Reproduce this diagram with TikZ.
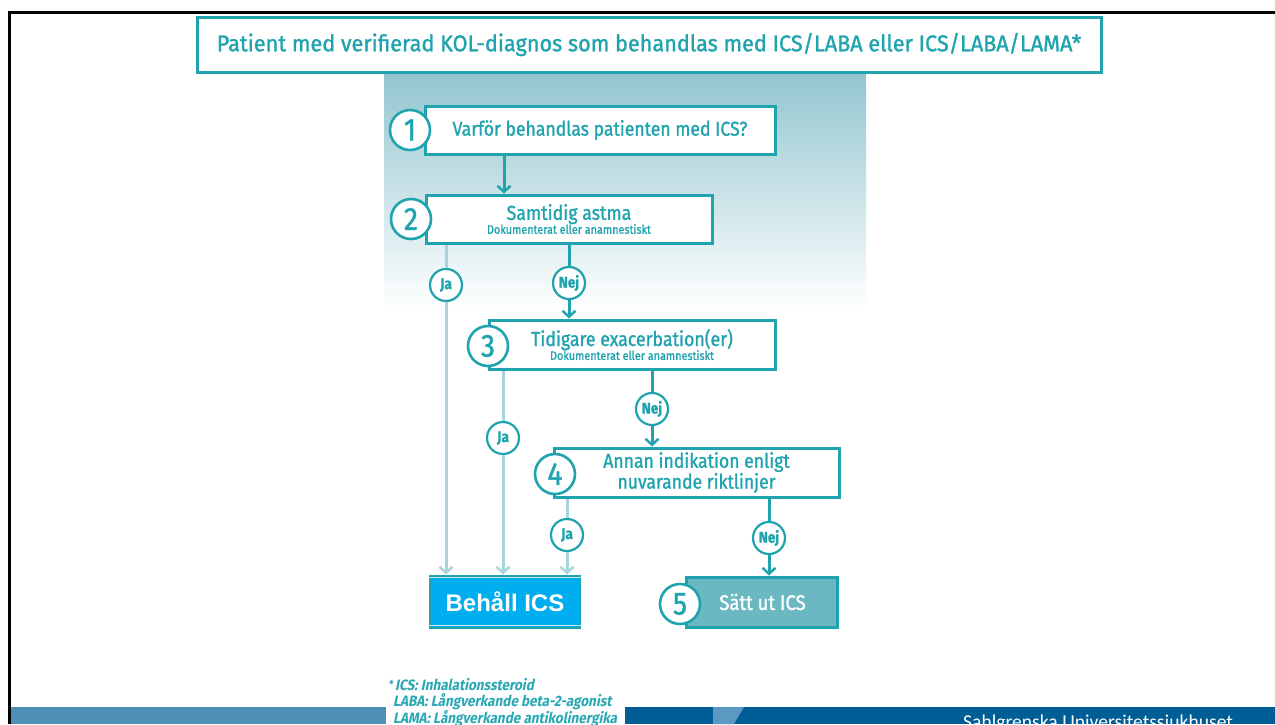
\documentclass[tikz,border=0pt]{standalone}
\usepackage{fontspec}
\usetikzlibrary{arrows.meta,calc}
\newfontfamily\cond[FakeStretch=0.88,FakeBold=1.2]{Fira Sans}
\newfontfamily\condt[FakeStretch=0.95,FakeBold=1.2]{Fira Sans}
\newfontfamily\condit[FakeStretch=0.9,FakeSlant=0.2]{Fira Sans}
\newfontfamily\arialf{Liberation Sans}
\newfontfamily\carl{Carlito}
\definecolor{teal1}{HTML}{1FA3AF}
\definecolor{lightln}{HTML}{A9D3DA}
\definecolor{gradtop}{HTML}{93C5CF}
\definecolor{cyanfill}{HTML}{00AEEF}
\definecolor{sattfill}{HTML}{6BB8C3}
\definecolor{footlight}{HTML}{4E90B7}
\definecolor{footdark}{HTML}{005E97}
\definecolor{footstripe}{HTML}{5B98C2}
\definecolor{notecol}{HTML}{2AA8B4}
\tikzset{
  box/.style={draw=teal1,line width=3pt,fill=white,text=teal1,align=center,inner sep=0pt},
  numc/.style={circle,draw=teal1,line width=2.6pt,fill=white,text=teal1,minimum size=40pt,inner sep=0pt,font=\cond\fontsize{32}{32}\selectfont},
  jn/.style={circle,draw=teal1,line width=2.2pt,fill=white,text=teal1,minimum size=32pt,inner sep=0pt,font=\cond\bfseries\fontsize{15.5}{15.5}\selectfont},
  arr/.style={draw=teal1,line width=3pt,-{Straight Barb[length=6pt,width=13pt,line width=2.5pt]}},
  larr/.style={draw=lightln,line width=3pt,-{Straight Barb[length=6pt,width=13pt,line width=2.5pt]}},
  ln/.style={draw=teal1,line width=3pt},
  lln/.style={draw=lightln,line width=3pt},
  bigt/.style={font=\cond\fontsize{20}{19}\selectfont},
}
\newcommand{\subt}[1]{{\cond\fontsize{12.3}{12.3}\selectfont #1}}
\newcommand{\maint}[1]{{\cond\fontsize{20.2}{20.2}\selectfont #1}}
\begin{document}
\begin{tikzpicture}[x=1pt,y=-1pt]
\useasboundingbox (0,0) rectangle (1275,724);
\clip (0,0) rectangle (1275,724);
\fill[white] (0,0) rectangle (1275,724);
% frame lines
\fill[black] (8,11) rectangle (1275,14);
\fill[black] (8,11) rectangle (11,724);
% footer bands
\fill[footlight] (11,707) rectangle (386,724);
\fill[footdark] (625,707) rectangle (1275,724);
\fill[footstripe] (713,707) -- (744,707) -- (734,724) -- (713,724) -- cycle;
\node[anchor=base west,text=white,font=\carl\fontsize{19.6}{19.6}\selectfont,inner sep=0pt] (foot) at (963,728) {Sahlgrenska Universitetssjukhuset};
% gradient
\shade[top color=gradtop,bottom color=white] (384,73) rectangle (866,308);
% title
\node[box,minimum width=904pt,minimum height=55pt,font=\condt\fontsize{22.8}{22.8}\selectfont] (title) at (649,44.5) {Patient med verifierad KOL-diagnos som behandlas med ICS/LABA eller ICS/LABA/LAMA*};
% boxes
\node[box,minimum width=350pt,minimum height=48pt,bigt] (b1) at (600,130) {Varför behandlas patienten med ICS?};
\node[box,minimum width=286pt,minimum height=48pt] (b2) at (569,219) {\maint{Samtidig astma}\\[-1pt]\subt{Dokumenterat eller anamnestiskt}};
\node[box,minimum width=286pt,minimum height=49pt] (b3) at (632,344.5) {\maint{Tidigare exacerbation(er)}\\[-1pt]\subt{Dokumenterat eller anamnestiskt}};
\node[box,minimum width=285pt,minimum height=49pt,bigt] (b4) at (696.5,472.5) {Annan indikation enligt\\nuvarande riktlinjer};
\node[draw=teal1,line width=2pt,fill=cyanfill,text=white,minimum width=150pt,minimum height=52pt,inner sep=0pt,font=\arialf\bfseries\fontsize{24}{24}\selectfont] (behall) at (505,601.5) {Behåll ICS};
\draw[lightln!60!white,line width=1.5pt] ([yshift=-3pt]behall.north west) -- ([yshift=-3pt]behall.north east);
\draw[lightln!60!white,line width=1.5pt] ([yshift=3pt]behall.south west) -- ([yshift=3pt]behall.south east);
\node[box,fill=sattfill,text=white,minimum width=151pt,minimum height=50pt,font=\cond\fontsize{21}{21}\selectfont] (satt) at (761.5,602) {\hspace*{2pt}Sätt ut ICS};
% number circles
\node[numc] (n1) at (410,130) {1};
\node[numc] (n2) at (411,219) {2};
\node[numc] (n3) at (488,346) {3};
\node[numc] (n4) at (555,474) {4};
\node[numc] (n5) at (680,604) {5};
% connector x positions
\coordinate (x1) at (504,0);
\node[jn] (ja1) at (446,285) {Ja};
\node[jn] (nej1) at (569,283) {Nej};
\node[jn] (ja2) at (503,438) {Ja};
\node[jn] (nej2) at (652,409) {Nej};
\node[jn] (ja3) at (567,535) {Ja};
\node[jn] (nej3) at (769,538) {Nej};
% connectors
\draw[arr] (b1.south -| x1) -- (b2.north -| x1);
\draw[lln] (b2.south -| ja1) -- (ja1);
\draw[larr] (ja1) -- (behall.north -| ja1);
\draw[ln] (b2.south -| nej1) -- (nej1);
\draw[arr] (nej1) -- (b3.north -| nej1);
\draw[lln] (b3.south -| ja2) -- (ja2);
\draw[larr] (ja2) -- (behall.north -| ja2);
\draw[ln] (b3.south -| nej2) -- (nej2);
\draw[arr] (nej2) -- (b4.north -| nej2);
\draw[lln] (b4.south -| ja3) -- (ja3);
\draw[larr] (ja3) -- (behall.north -| ja3);
\draw[ln] (b4.south -| nej3) -- (nej3);
\draw[arr] (nej3) -- (satt.north -| nej3);
% footnote
\fill[white] (386,676) rectangle (625,724);
\node[anchor=north west,align=left,text=notecol,inner sep=0pt,font=\condit\bfseries\fontsize{15}{16.5}\selectfont] (note) at (388,678) {\raisebox{2pt}{\fontsize{11}{11}\selectfont*}\,ICS: Inhalationssteroid\\\hspace*{5pt}LABA: Långverkande beta-2-agonist\\\hspace*{5pt}LAMA: Långverkande antikolinergika};
\end{tikzpicture}
\end{document}
